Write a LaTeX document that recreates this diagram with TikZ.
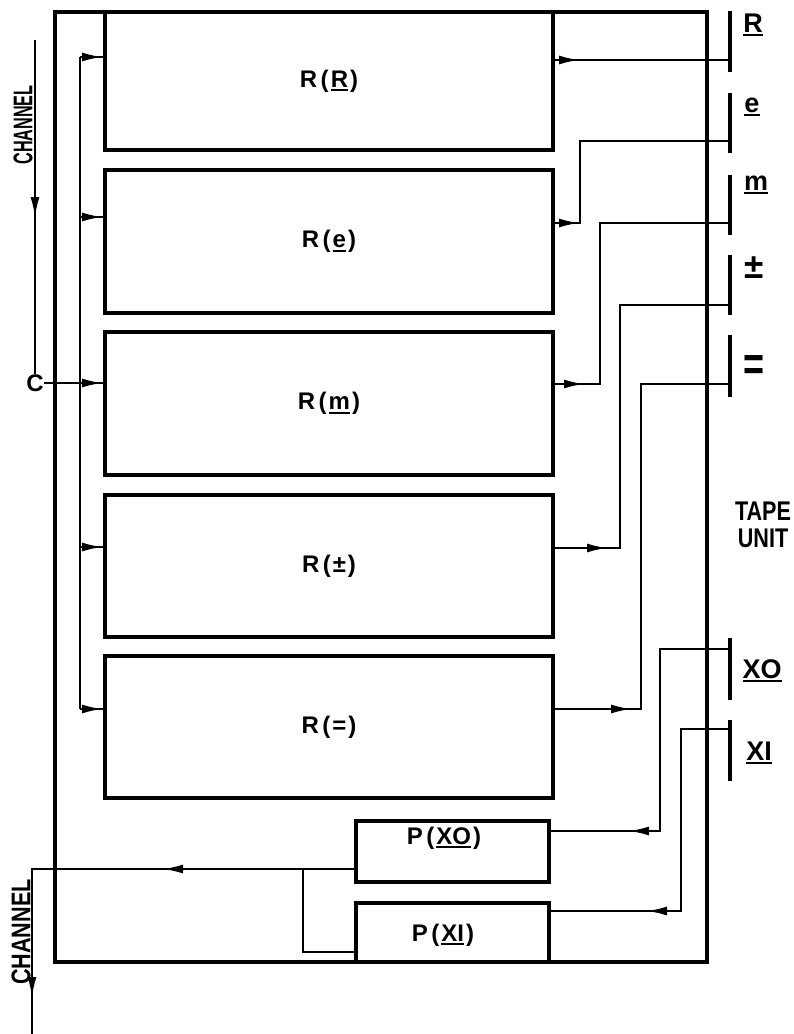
\documentclass[tikz,border=0pt]{standalone}
\usepackage{fontspec}
\setmainfont{Liberation Sans}
\usetikzlibrary{arrows.meta,decorations.markings}
\newcommand\ulx[1]{\setbox0\hbox{#1}\leavevmode\rlap{\rule[-3.8pt]{\wd0}{2pt}}\box0}
\newcommand\myL{\kern3.5pt(\kern2pt}
\newcommand\myR{\kern2pt)}
\begin{document}
\begin{tikzpicture}[x=1pt,y=-1pt,
  frame/.style={line width=3.2pt},
  box/.style={draw,line width=3.1pt,inner sep=0pt,outer sep=0pt,font=\bfseries\fontsize{24}{24}\selectfont},
  wire/.style={line width=1.8pt},
  head/.style={line width=4pt},
  lab/.style={font=\bfseries\fontsize{24}{24}\selectfont,inner sep=0pt},
  biglab/.style={font=\bfseries\fontsize{27}{30}\selectfont,inner sep=0pt},
  tipA/.tip={Latex[length=20pt,width=9pt]},
  arrat/.style={postaction={decorate},decoration={markings,mark=at position #1 with {\arrow{tipA}}}},
  arrrev/.style={postaction={decorate},decoration={markings,mark=at position #1 with {\arrowreversed{tipA}}}},
  arrtwo/.style 2 args={postaction={decorate},decoration={markings,mark=at position #1 with {\arrow{tipA}},mark=at position #2 with {\arrow{tipA}}}}]
\useasboundingbox (0,0) rectangle (794,1034);

% frame
\draw[frame] (55,12) rectangle (707,962);

% register boxes
\node[box,minimum width=448pt,minimum height=138pt] (RR) at (329,81) {R\myL\ulx{R}\myR};
\node[box,minimum width=448pt,minimum height=143pt] (Re) at (329,241.5) {R\myL\ulx{e}\myR};
\node[box,minimum width=448pt,minimum height=143pt] (Rm) at (329,403.5) {R\myL\ulx{m}\myR};
\node[box,minimum width=448pt,minimum height=142pt] (Rpm) at (329,566) {R\myL±\myR};
\node[box,minimum width=448pt,minimum height=142pt] (Req) at (329,727) {R\myL=\myR};
\node[box,minimum width=193pt,minimum height=61pt] (PX0) at (452.5,851.5) {};
\node[box,minimum width=193pt,minimum height=59pt] (PX1) at (452.5,932.5) {};
\node[lab] (lPX0) at (444,838) {P\myL\ulx{XO}\myR};
\node[lab] (lPX1) at (443,935) {P\myL\ulx{XI}\myR};

% input channel and bus
\node[lab] (C) at (35,383) {C};
\coordinate (chT) at (35,40);
\draw[wire,arrat=177pt] (chT) -- (C.north);
\node[biglab,rotate=90] (ch1) at (23,125) {\scalebox{.6}[1]{CHANNEL}};
\coordinate (b1) at (80,57);
\coordinate (b2) at (80,217);
\coordinate (b4) at (80,547);
\coordinate (b5) at (80,709);
\draw[wire] (b1) -- (b5);
\draw[wire,arrat=-3pt] (b1) -- (b1 -| RR.west);
\draw[wire,arrat=-3pt] (b2) -- (b2 -| Re.west);
\draw[wire,arrat=-3pt] (C.east) -- (C.east -| Rm.west);
\draw[wire,arrat=-3pt] (b4) -- (b4 -| Rpm.west);
\draw[wire,arrat=-3pt] (b5) -- (b5 -| Req.west);

% tape heads
\draw[head] (730,11) -- (730,72);
\draw[head] (730,93) -- (730,153);
\draw[head] (730,175) -- (730,235);
\draw[head] (730,255) -- (730,315);
\draw[head] (730,335) -- (730,397);
\draw[head] (730,638) -- (730,700);
\draw[head] (730,720) -- (730,781);
\coordinate (hR) at (730,60);
\coordinate (hE) at (730,141);
\coordinate (hM) at (730,223);
\coordinate (hP) at (730,305);
\coordinate (hQ) at (730,384);
\coordinate (hX0) at (730,649);
\coordinate (hX1) at (730,729);

\node[biglab,anchor=base] (tR) at (753,32) {\ulx{R}};
\node[biglab,anchor=base] (tE) at (752,112) {\ulx{e}};
\node[biglab,anchor=base] (tM) at (756,190) {\ulx{m}};
\node[biglab] (tP) at (754,268) {\scalebox{1.3}{±}};
\node[lab] (tQ) at (754,368) {\scalebox{1.5}[2]{=}};
\node[biglab,anchor=base] (tX0) at (762,678) {\ulx{XO}};
\node[biglab,anchor=base] (tX1) at (759,760) {\ulx{XI}};
\node[biglab,align=center] (tape) at (763,525) {\scalebox{.8}[1]{TAPE}\\[-3pt]\scalebox{.8}[1]{UNIT}};

% register to tape wires
\draw[wire,arrat=26pt] (RR.east |- hR) -- (hR);
\draw[wire,arrat=26pt] (Re.east |- hM) -- (580,223) -- (580,141) -- (hE);
\draw[wire,arrat=31pt] (Rm.east |- hQ) -- (600,384) -- (600,223) -- (hM);
\draw[wire,arrat=54pt] (Rpm.east |- 0,548) -- (620,548) -- (620,305) -- (hP);
\draw[wire,arrat=78pt] (Req.east |- b5) -- (641,709) -- (641,384) -- (hQ);
\draw[wire,arrrev=80pt] (PX0.east |- 0,831) -- (660,831) -- (660,649) -- (hX0);
\draw[wire,arrrev=98pt] (PX1.east |- 0,911) -- (681,911) -- (681,729) -- (hX1);

% output channel
\coordinate (chK) at (32,869);
\coordinate (chB) at (32,1034);
\draw[wire,arrtwo={193pt}{452pt}] (PX0.west |- chK) -- (chK) -- (chB);
\coordinate (jn) at (303,869);
\coordinate (jn2) at (303,952);
\draw[wire] (jn) -- (jn2) -- (jn2 -| PX1.west);
\node[biglab,rotate=90] (ch2) at (21,932) {\scalebox{.8}[1]{CHANNEL}};
\end{tikzpicture}
\end{document}
